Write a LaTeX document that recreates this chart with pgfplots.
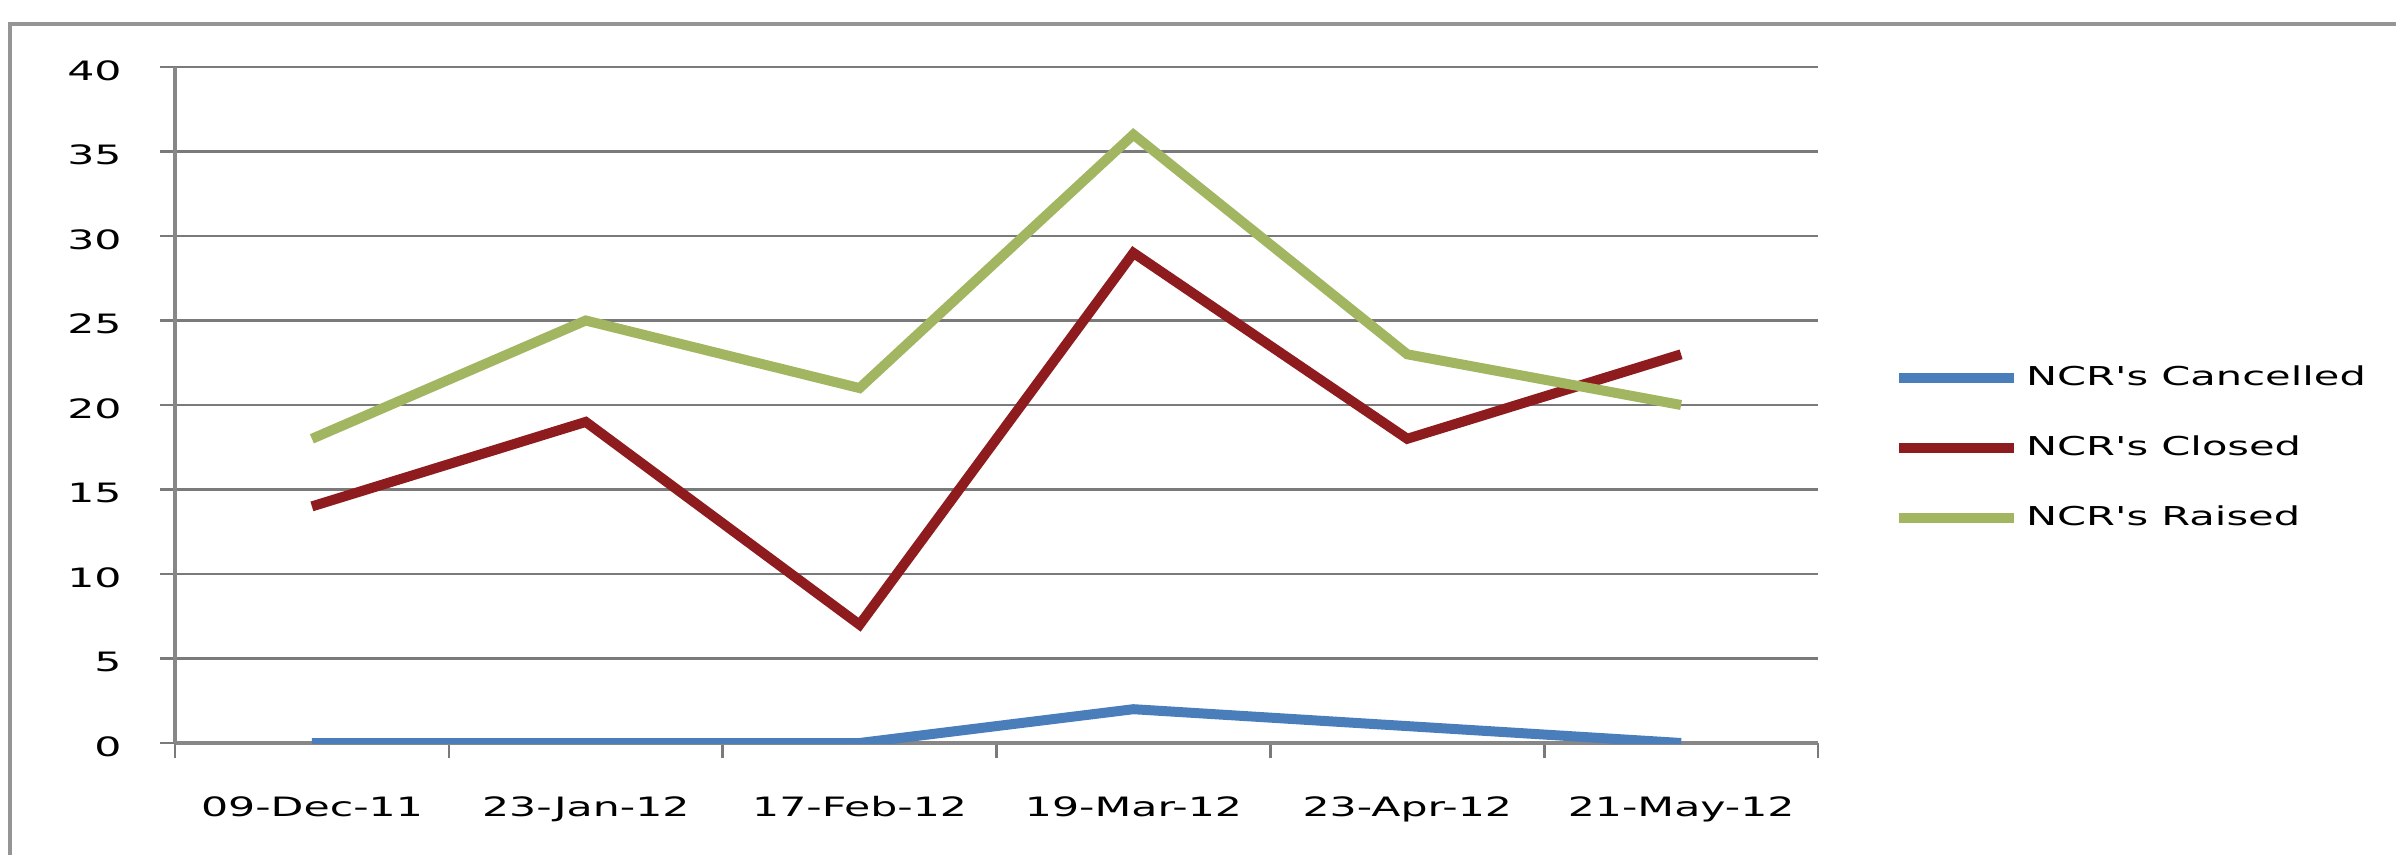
\documentclass[border=0pt]{standalone}
\usepackage{pgfplots}
\pgfplotsset{compat=1.18}
\usepackage{fontspec}
\setmainfont{DejaVu Sans}[FakeStretch=1.6, Ligatures=TeXOff]
\definecolor{cancel}{HTML}{4A7EBB}
\definecolor{closed}{HTML}{8E1B1D}
\definecolor{raised}{HTML}{A2B662}
\definecolor{gridc}{HTML}{7A7A7A}
\begin{document}
\begin{tikzpicture}
\useasboundingbox (0,0) rectangle (718.8pt,256.5pt);
\draw[color=gridc!80, line width=1pt] (3pt,-5pt) -- (3pt,249.3pt) -- (730pt,249.3pt);
\begin{axis}[
  at={(52.5pt,33.6pt)}, anchor=south west,
  width=492.9pt, height=202.8pt, scale only axis,
  xmin=-0.5, xmax=5.5, ymin=0, ymax=40,
  axis x line*=bottom, axis y line*=left,
  axis line style={draw=gridc!90, line width=1.4pt, -},
  xtick={-0.5,0.5,...,5.5},
  xticklabels={09-Dec-11,23-Jan-12,17-Feb-12,19-Mar-12,23-Apr-12,21-May-12,{}},
  ytick={0,5,...,40},
  tick align=outside,
  major tick length=4.5pt,
  tick style={draw=gridc, line width=0.8pt},
  ymajorgrids=true,
  grid style={draw=gridc, line width=0.8pt},
  /pgf/number format/assume math mode=true,
  ticklabel style={font=\fontsize{8}{9.6}\selectfont, text=black},
  yticklabel style={anchor=east, xshift=-8pt, yshift=-1pt},
  xticklabel style={xshift=41.1pt, yshift=-8pt},
  legend style={draw=none, fill=none, at={(1.04,0.436)}, anchor=west,
    font=\fontsize{7.8}{9}\selectfont, row sep=9.6pt},
  legend cell align=left,
  legend image code/.code={\draw[#1] (0pt,0pt) -- (34.5pt,0pt);},
]
\addplot[cancel, line width=3pt] coordinates {(0,0) (1,0) (2,0) (3,2) (4,1) (5,0)};
\addlegendentry{NCR's Cancelled}
\addplot[closed, line width=3pt] coordinates {(0,14) (1,19) (2,7) (3,29) (4,18) (5,23)};
\addlegendentry{NCR's Closed}
\addplot[raised, line width=3pt] coordinates {(0,18) (1,25) (2,21) (3,36) (4,23) (5,20)};
\addlegendentry{NCR's Raised}
\end{axis}
\end{tikzpicture}
\end{document}
